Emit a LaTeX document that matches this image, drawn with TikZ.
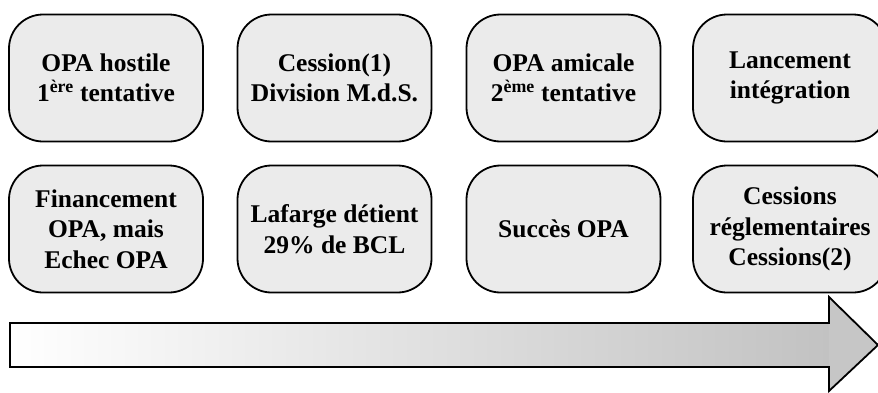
\documentclass[tikz,border=0pt]{standalone}
\usepackage{fontspec}
\setmainfont{Liberation Serif}
\definecolor{boxfill}{HTML}{EBEBEB}
\definecolor{headfill}{HTML}{C6C6C6}
\definecolor{shaftend}{HTML}{C2C2C2}
\tikzset{
  stage/.style={draw=black, line width=1.8pt, fill=boxfill, rounded corners=34pt,
    minimum width=194pt, minimum height=127pt, inner sep=0pt, align=center,
    font=\bfseries\fontsize{25.5pt}{30.5pt}\selectfont},
  timeline/.style={draw=black, line width=1.8pt, line join=miter}
}
\begin{document}
\begin{tikzpicture}[x=1pt, y=-1pt]
\useasboundingbox (0,0) rectangle (878,392);
\clip (0,0) rectangle (878,392);
\fill[white] (0,0) rectangle (878,392);

% first row of milestones
\node[stage] (a1) at (106,78)    {OPA hostile\\1\textsuperscript{ère} tentative};
\node[stage] (a2) at (334.5,78)  {Cession(1)\\Division M.d.S.};
\node[stage] (a3) at (563.5,78)  {OPA amicale\\2\textsuperscript{ème} tentative};
\node[stage] (a4) at (790,78)    {Lancement\\intégration};

% second row: outcomes
\node[stage] (b1) at (106,229)   {Financement\\OPA, mais\\Echec OPA};
\node[stage] (b2) at (334.5,229) {Lafarge détient\\29\% de BCL};
\node[stage] (b3) at (563.5,229) {Succès OPA};
\node[stage] (b4) at (790,229)   {Cessions\\réglementaires\\Cessions(2)};

% time arrow: shaded shaft, grey head
\shade[left color=white, right color=shaftend] (10,323) rectangle (829,367);
\fill[headfill] (829,323) -- (829,297) -- (878,345) -- (829,391) -- (829,367) -- cycle;
\draw[timeline] (10,323) -- (829,323) -- (829,297) -- (878,345) -- (829,391)
  -- (829,367) -- (10,367) -- cycle;
\end{tikzpicture}
\end{document}
